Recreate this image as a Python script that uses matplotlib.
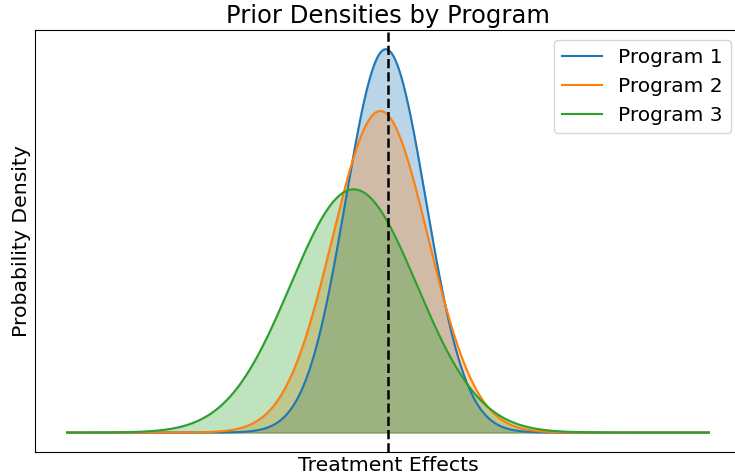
import numpy as np
import matplotlib
matplotlib.use("Agg")
import matplotlib.pyplot as plt

programs = ["Program 1", "Program 2", "Program 3"]
means = [-0.007, -0.024, -0.107]
sds = [0.125, 0.149, 0.197]
colors = ["#1f77b4", "#ff7f0e", "#2ca02c"]
x_min, x_max = -1.0, 1.0

fig = plt.figure(figsize=(7.35, 4.73), dpi=100)
ax = fig.add_axes([35/735, 21.3/473, 706/735, 421.7/473])

x = np.linspace(x_min, x_max, 1000)
for name, m, s, c in zip(programs, means, sds, colors):
    y = np.exp(-0.5 * ((x - m) / s) ** 2) / (s * np.sqrt(2 * np.pi))
    ax.plot(x, y, color=c, lw=1.5, label=name)
    ax.fill_between(x, y, color=c, alpha=0.3)

ax.axvline(0, color="black", ls="--", lw=1.8)
ax.set_xticks([])
ax.set_yticks([])
ax.set_title("Prior Densities by Program", fontsize=17.5, pad=5)
ax.set_xlabel("Treatment Effects", fontsize=14.7, labelpad=3)
ax.set_ylabel("Probability Density", fontsize=14.7, labelpad=3)
ax.legend(fontsize=14.5, loc="upper right")
fig.savefig("out.png", dpi=100)
